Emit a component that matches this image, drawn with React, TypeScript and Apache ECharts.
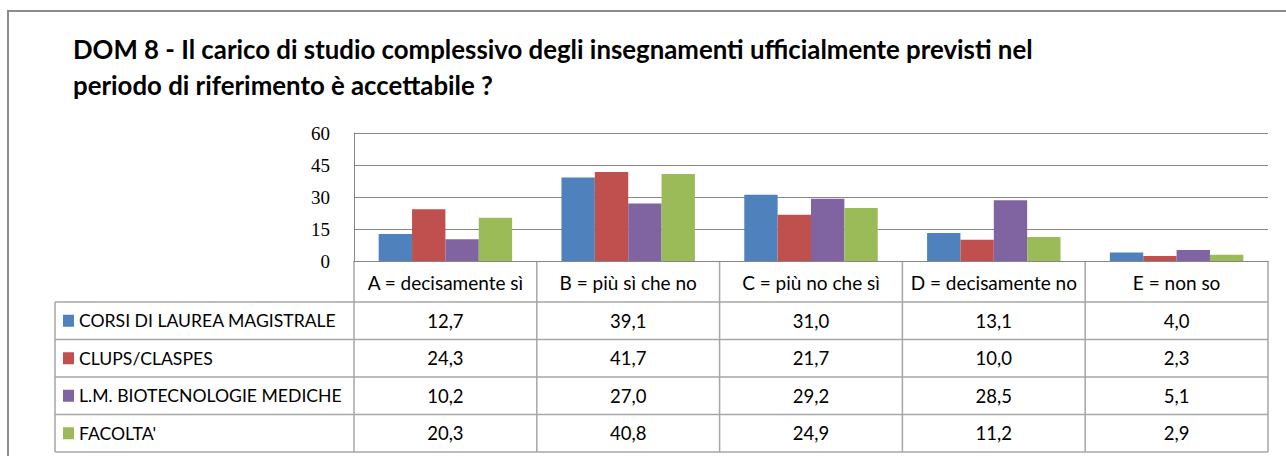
import React, { useEffect, useRef } from "react";
import * as echarts from "echarts";

const titleLines = [
  "DOM 8 - Il carico di studio complessivo degli insegnamenti ufficialmente previsti nel",
  "periodo di riferimento è accettabile ?",
];
const categories = [
  "A = decisamente sì",
  "B = più sì che no",
  "C = più no che sì",
  "D = decisamente no",
  "E = non so",
];
const seriesNames = [
  "CORSI DI LAUREA MAGISTRALE",
  "CLUPS/CLASPES",
  "L.M. BIOTECNOLOGIE MEDICHE",
  "FACOLTA'",
];
const corsiValues = [12.7, 39.1, 31.0, 13.1, 4.0];
const clupsValues = [24.3, 41.7, 21.7, 10.0, 2.3];
const biotecValues = [10.2, 27.0, 29.2, 28.5, 5.1];
const facoltaValues = [20.3, 40.8, 24.9, 11.2, 2.9];
const yTicks = [0, 15, 30, 45, 60];

const seriesValues = [corsiValues, clupsValues, biotecValues, facoltaValues];
const colors = ["#4F81BD", "#C0504D", "#8064A2", "#9BBB59"];

const FONT = "Lato, 'Open Sans', sans-serif";
const GRID_COLOR = "#868686";
const TABLE_COLOR = "#A6A6A6";

export default function App() {
  const ref = useRef<HTMLDivElement>(null);
  useEffect(() => {
    if (!ref.current) return;
    const chart = echarts.init(ref.current, null, { renderer: "svg" });
    const gridLeft = 354;
    const gridRight = 18;
    const gridTop = 133;
    const gridHeight = 128;
    chart.setOption({
      animation: false,
      backgroundColor: "#ffffff",
      title: {
        text: titleLines.join("\n"),
        left: 68,
        top: 26,
        textStyle: {
          fontFamily: FONT,
          fontSize: 25.8,
          fontWeight: "bold",
          color: "#000",
          lineHeight: 36,
        },
      },
      grid: {
        left: gridLeft,
        right: gridRight,
        top: gridTop,
        height: gridHeight,
        containLabel: false,
      },
      xAxis: {
        type: "category",
        data: categories,
        axisLabel: { show: false },
        axisTick: { show: false },
        axisLine: { show: true, lineStyle: { color: GRID_COLOR, width: 1 } },
      },
      yAxis: {
        type: "value",
        min: yTicks[0],
        max: yTicks[yTicks.length - 1],
        interval: 15,
        axisLine: { show: true, lineStyle: { color: GRID_COLOR, width: 1 } },
        axisTick: { show: false },
        axisLabel: {
          margin: 24,
          fontFamily: "'Liberation Serif', serif",
          fontSize: 19,
          color: "#000",
        },
        splitLine: { lineStyle: { color: GRID_COLOR, width: 1 } },
      },
      series: seriesNames.map((name, i) => ({
        name,
        type: "bar",
        data: seriesValues[i],
        barGap: "0%",
        barCategoryGap: "27%",
        itemStyle: { color: colors[i] },
      })),
    });

    // Build the data table under the plot, aligned with the category axis.
    const zeroY = chart.convertToPixel({ yAxisIndex: 0 }, 0) as number;
    const c0 = chart.convertToPixel({ xAxisIndex: 0 }, categories[0]) as number;
    const c1 = chart.convertToPixel({ xAxisIndex: 0 }, categories[1]) as number;
    const band = c1 - c0;
    const plotLeft = c0 - band / 2;
    const plotRight = plotLeft + band * categories.length;
    const legendLeft = 55;
    const headerBottom = zeroY + 41;
    const rowH = 37.5;
    const tableBottom = headerBottom + rowH * seriesNames.length;

    const graphic: any[] = [];
    const line = (x1: number, y1: number, x2: number, y2: number, color = TABLE_COLOR) =>
      graphic.push({
        type: "line",
        shape: { x1, y1, x2, y2 },
        style: { stroke: color, lineWidth: 1.5 },
        silent: true,
      });

    // outer frame
    graphic.push({
      type: "polyline",
      shape: { points: [[8, 470], [8, 11], [1300, 11]] },
      style: { stroke: "#8C8C8C", lineWidth: 2, fill: null },
      silent: true,
    });

    // horizontal table lines
    for (let r = 0; r <= seriesNames.length; r++) {
      const y = headerBottom + r * rowH;
      line(legendLeft, y, plotRight, y);
    }
    // vertical lines
    line(legendLeft, headerBottom, legendLeft, tableBottom);
    for (let c = 0; c <= categories.length; c++) {
      const x = plotLeft + c * band;
      line(x, zeroY, x, tableBottom);
    }
    // category headers
    categories.forEach((cat) => {
      const x = chart.convertToPixel({ xAxisIndex: 0 }, cat) as number;
      graphic.push({
        type: "text",
        x,
        y: (zeroY + headerBottom) / 2 + 1,
        style: {
          text: cat,
          fontFamily: FONT,
          fontSize: 19,
          fill: "#000",
          align: "center",
          verticalAlign: "middle",
        },
        silent: true,
      });
    });
    // rows
    seriesNames.forEach((name, r) => {
      const yMid = headerBottom + r * rowH + rowH / 2;
      graphic.push({
        type: "rect",
        shape: { x: 63, y: yMid - 6, width: 11, height: 12 },
        style: { fill: colors[r] },
        silent: true,
      });
      graphic.push({
        type: "text",
        x: 79,
        y: yMid,
        style: {
          text: name,
          fontFamily: FONT,
          fontSize: 17.6,
          fill: "#000",
          align: "left",
          verticalAlign: "middle",
        },
        silent: true,
      });
      seriesValues[r].forEach((v, c) => {
        const x = chart.convertToPixel({ xAxisIndex: 0 }, categories[c]) as number;
        graphic.push({
          type: "text",
          x,
          y: yMid,
          style: {
            text: v.toFixed(1).replace(".", ","),
            fontFamily: FONT,
            fontSize: 18.5,
            fill: "#000",
            align: "center",
            verticalAlign: "middle",
          },
          silent: true,
        });
      });
    });
    chart.setOption({ graphic });

    return () => chart.dispose();
  }, []);
  return (
    <div
      ref={ref}
      style={{ position: "absolute", left: 0, top: 0, width: 1286, height: 456 }}
    />
  );
}
